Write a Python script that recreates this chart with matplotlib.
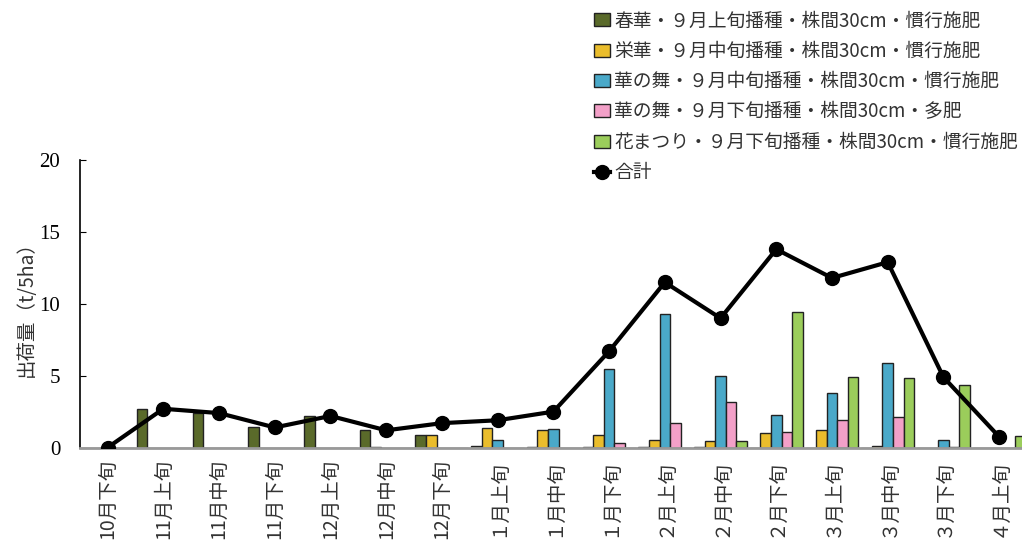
import matplotlib
matplotlib.use("Agg")
import matplotlib.pyplot as plt
import numpy as np

plt.rcParams['font.family'] = ['Noto Sans CJK JP', 'DejaVu Sans']

# 旬ごとの出荷量 (t/5ha)
periods = ["10月下旬", "11月上旬", "11月中旬", "11月下旬", "12月上旬", "12月中旬",
           "12月下旬", "１月上旬", "１月中旬", "１月下旬", "２月上旬", "２月中旬",
           "２月下旬", "３月上旬", "３月中旬", "３月下旬", "４月上旬"]

haruka = [0, 2.7, 2.4, 1.4, 2.2, 1.2, 0.85, 0.08, 0.05, 0.05, 0.05, 0.05, 0, 0, 0, 0, 0]
eika = [0, 0, 0, 0, 0, 0.05, 0.9, 1.35, 1.2, 0.9, 0.5, 0.45, 1.0, 1.2, 0.1, 0, 0]
hananomai = [0, 0, 0, 0, 0, 0, 0, 0.5, 1.3, 5.5, 9.3, 4.95, 2.3, 3.8, 5.9, 0.5, 0]
hananomai_tahi = [0, 0, 0, 0, 0, 0, 0, 0, 0, 0.3, 1.7, 3.15, 1.05, 1.9, 2.1, 0.05, 0]
hanamatsuri = [0, 0, 0, 0, 0, 0, 0, 0, 0, 0, 0, 0.45, 9.45, 4.9, 4.85, 4.35, 0.8]
total = [0, 2.7, 2.4, 1.4, 2.2, 1.2, 1.7, 1.9, 2.5, 6.7, 11.5, 9.0, 13.8, 11.8, 12.9, 4.9, 0.75]

labels = ["春華・９月上旬播種・株間30cm・慣行施肥",
          "栄華・９月中旬播種・株間30cm・慣行施肥",
          "華の舞・９月中旬播種・株間30cm・慣行施肥",
          "華の舞・９月下旬播種・株間30cm・多肥",
          "花まつり・９月下旬播種・株間30cm・慣行施肥"]
colors = ["#5a6a2a", "#eabd2c", "#4aa9c9", "#f3a0c8", "#9bcd5b"]

fig = plt.figure(figsize=(10.22, 5.56), dpi=100)
ax = fig.add_axes([0.078, 0.195, 0.922, 0.517])

x = np.arange(len(periods))
w = 0.19
series = [haruka, eika, hananomai, hananomai_tahi, hanamatsuri]
handles = []
for i, vals in enumerate(series):
    b = ax.bar(x + (i - 2) * w, vals, width=w, color=colors[i], edgecolor="#222222",
               linewidth=1.0, label=labels[i], zorder=2)
    handles.append(b)

line, = ax.plot(x, total, color="black", linewidth=3, marker="o", markersize=10,
                label="合計", zorder=3)
handles.append(line)

ax.set_xlim(-0.5, 16.41)
ax.set_ylim(0, 20)
ax.set_yticks([0, 5, 10, 15, 20])
ax.set_yticklabels(["0", "5", "10", "15", "20"], family="Liberation Serif", fontsize=15)
ax.tick_params(axis="y", direction="in", length=4, pad=14)
ax.set_xticks(x)
ax.set_xticklabels(periods, rotation=90, fontsize=14, color="#333333")
ax.tick_params(axis="x", length=0, pad=8)

for s in ["top", "right"]:
    ax.spines[s].set_visible(False)
ax.spines["bottom"].set_color("#999999")
ax.spines["bottom"].set_linewidth(2)
ax.spines["left"].set_linewidth(1.2)

ax.set_ylabel("出荷量（t/5ha）", fontsize=14, color="#333333", labelpad=2)

fig.legend(handles=handles, loc="upper left", bbox_to_anchor=(0.568, 1.005),
           frameon=False, fontsize=13.5, handlelength=0.9, handletextpad=0.2,
           labelspacing=0.5, borderpad=0.2, labelcolor="#333333")

fig.savefig("out.png", dpi=100)
